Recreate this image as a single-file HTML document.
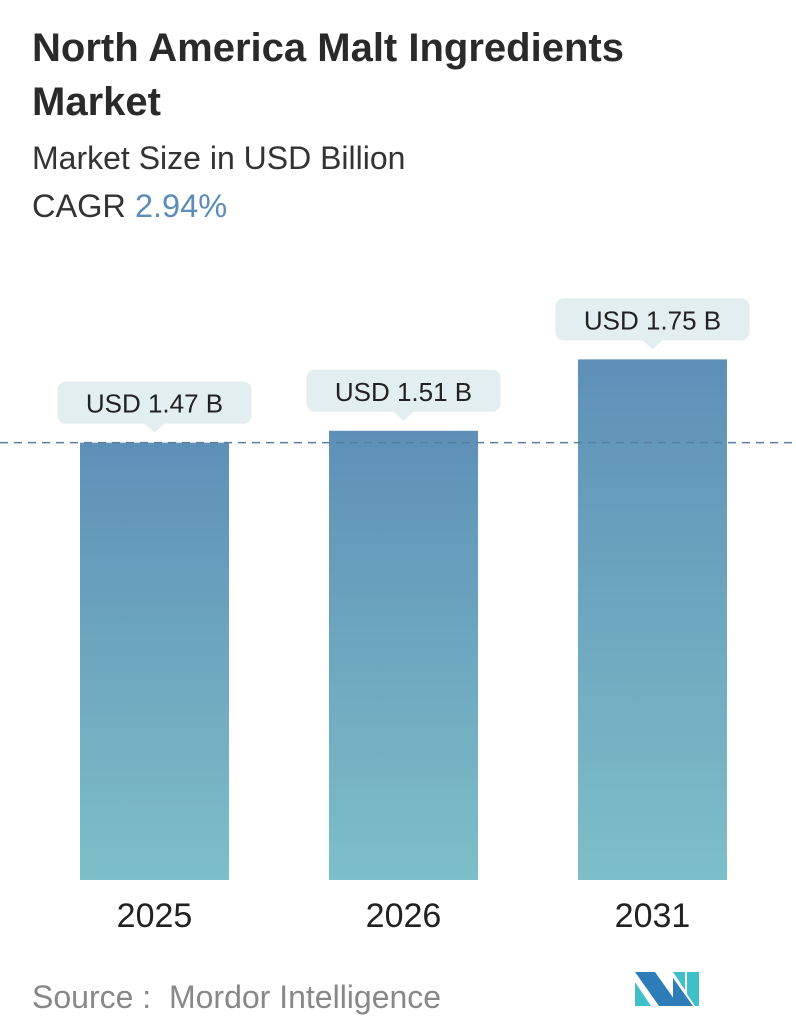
<!DOCTYPE html>
<html><head><meta charset="utf-8"><style>
body{margin:0;width:796px;height:1034px;background:#fff;font-family:"Liberation Sans",sans-serif;position:relative;overflow:hidden}
.t{position:absolute;left:32px;color:#222;white-space:nowrap}
</style></head><body>
<div class="t" style="top:21px;font-size:40px;font-weight:bold;line-height:54px;color:#2a2a2a">North America Malt Ingredients<br>Market</div>
<div class="t" style="top:140px;font-size:32px;color:#333">Market Size in USD Billion</div>
<div class="t" style="top:188px;font-size:32.5px;color:#333">CAGR <span style="color:#5b8db8">2.94%</span></div>
<svg id="c" width="796" height="1034" style="position:absolute;left:0;top:0">
<defs><linearGradient id="g" x1="0" y1="0" x2="0" y2="1"><stop offset="0" stop-color="#5e90b7"/><stop offset="1" stop-color="#7dbfc8"/></linearGradient></defs>
</svg>
<div class="t" style="top:979px;font-size:32px;color:#888">Source :&nbsp; Mordor Intelligence</div>
<svg width="70" height="40" style="position:absolute;left:633px;top:970px">
<polygon points="2,2 22,2 46,36 26,36" fill="#2e7cb8"/><polygon points="2,12 18,36 2,36" fill="#3fc0c8"/>
<polygon points="40,2 52,2 52,20" fill="#3fc0c8"/><polygon points="40,8 60,36 40,36" fill="#2e7cb8"/>
<polygon points="54,2 66,2 66,36 62,36 54,24" fill="#3fc0c8"/>
</svg>
<script>
const years=["2025","2026","2031"];
const values=[1.47,1.51,1.75];
const labels=["USD 1.47 B","USD 1.51 B","USD 1.75 B"];
const svg=document.getElementById('c');const NS="http://www.w3.org/2000/svg";
const base=880,scale=297.5;
const y=v=>base-v*scale;
const x=i=>80+i*249;
function mk(t,a){const e=document.createElementNS(NS,t);for(const k in a)e.setAttribute(k,a[k]);svg.appendChild(e);return e;}
values.forEach((v,i)=>{
 const b=mk('rect',{x:x(i),y:y(v),width:149,height:base-y(v),fill:'url(#g)'});
 
 
 const cx=x(i)+74.5,top=y(v);
 const lb=mk('path',{d:`M${cx-89},${top-61} h178 a8,8 0 0 1 8,8 v26 a8,8 0 0 1 -8,8 h-79 l-10,9 l-10,-9 h-79 a8,8 0 0 1 -8,-8 v-26 a8,8 0 0 1 8,-8z`,fill:'#e2eef0'});
 
 
 const t=mk('text',{x:cx,y:top-30,'text-anchor':'middle','font-size':'26','fill':'#222'});t.textContent=labels[i];
 
 
 const yt=mk('text',{x:cx,y:927,'text-anchor':'middle','font-size':'34','fill':'#222'});yt.textContent=years[i];
 
 
});
const d=mk('line',{x1:0,x2:796,y1:y(values[0]),y2:y(values[0]),stroke:'#5a7f9e','stroke-width':1.5,'stroke-dasharray':'8,6'});


</script>
</body></html>
